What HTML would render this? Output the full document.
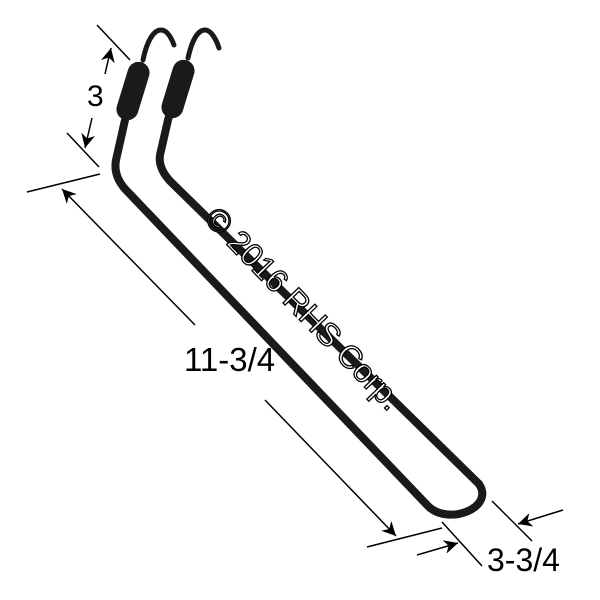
<!DOCTYPE html>
<html><head><style>html,body{margin:0;padding:0;background:#fff}svg{display:block}</style></head>
<body>
<svg width="600" height="600" viewBox="0 0 600 600" xmlns="http://www.w3.org/2000/svg">
<defs>
<marker id="ah" viewBox="0 0 10 10" refX="10" refY="5" markerWidth="16" markerHeight="14" markerUnits="userSpaceOnUse" orient="auto">
<path d="M0,0 L10,5 L0,10 L3,5 Z" fill="#000"/></marker>
</defs>
<g fill="none" stroke="#1a1a1a" stroke-width="8" stroke-linecap="round" stroke-linejoin="round">
<path d="M143,60 C147,40 154,30 161,30 C167,30 171,37 174,45" stroke-width="5"/>
<path d="M188,58 C192,40 198,30 205,30 C211,30 216,39 219,48" stroke-width="5"/>
<path d="M137,70 L125,120 L116,160 Q113,176 126,190 L428,506 C448,526 495,508 479,484"/>
<path d="M182,70 L168,120 L160,155 Q158,168 170,181 L479,484"/>
</g>
<rect x="122" y="61" width="22" height="60" rx="11" fill="#1a1a1a" transform="rotate(17 133 91)"/>
<rect x="167" y="59" width="22" height="60" rx="11" fill="#1a1a1a" transform="rotate(17 178 89)"/>
<g stroke="#000" stroke-width="1.5" fill="none">
<line x1="97" y1="25" x2="130" y2="60"/>
<line x1="67" y1="133" x2="99" y2="167"/>
<line x1="105" y1="74" x2="111" y2="48" marker-end="url(#ah)"/>
<line x1="92" y1="118" x2="85" y2="148" marker-end="url(#ah)"/>
<line x1="27" y1="192" x2="100" y2="174"/>
<line x1="195" y1="325" x2="62" y2="189" marker-end="url(#ah)"/>
<line x1="265" y1="400" x2="396" y2="536" marker-end="url(#ah)"/>
<line x1="367" y1="547" x2="442" y2="528"/>
<line x1="442" y1="522" x2="482" y2="566"/>
<line x1="492" y1="501" x2="532" y2="541"/>
<line x1="417" y1="555" x2="458" y2="543" marker-end="url(#ah)"/>
<line x1="563" y1="510" x2="518" y2="524" marker-end="url(#ah)"/>
</g>
<g font-family="Liberation Sans, sans-serif" fill="#000">
<text x="87" y="106" font-size="30">3</text>
<text x="184" y="371" font-size="33">11-3/4</text>
<text x="487" y="571" font-size="32">3-3/4</text>
</g>
<text x="0" y="0" font-family="Liberation Sans, sans-serif" font-size="32" fill="#fff" stroke="#000" stroke-width="1.3" transform="translate(203,220) rotate(46)">© 2016 RHS Corp.</text>
</svg>
</body></html>
